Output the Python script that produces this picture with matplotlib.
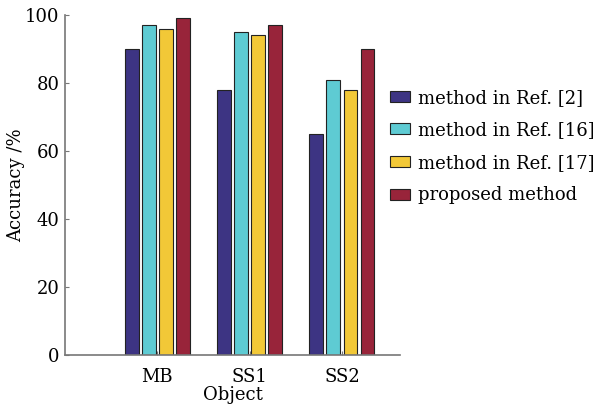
import numpy as np
import matplotlib.pyplot as plt

# Daten
objects = ['MB', 'SS1', 'SS2']
methods = ['method in Ref. [2]', 'method in Ref. [16]',
           'method in Ref. [17]', 'proposed method']
ref2 = [90, 78, 65]
ref16 = [97, 95, 81]
ref17 = [96, 94, 78]
proposed = [99, 97, 90]

colors = ['#3d3483', '#5ecbd3', '#f2c837', '#98243a']

plt.rcParams['font.family'] = 'DejaVu Serif'

fig = plt.figure(figsize=(5.93, 4.13), dpi=100)
ax = fig.add_axes([0.1096, 0.1404, 0.565, 0.8233])

x = np.arange(1, len(objects) + 1)
w = 0.15
step = 0.185
series = [ref2, ref16, ref17, proposed]
for i, (vals, c, lab) in enumerate(zip(series, colors, methods)):
    ax.bar(x + (i - 1.5) * step, vals, width=w, color=c, edgecolor='#222222',
           linewidth=0.8, label=lab, zorder=2)

ax.set_xlim(0, 3.63)
ax.set_ylim(0, 100)
ax.set_xticks(x)
ax.set_xticklabels(objects)
ax.set_yticks([0, 20, 40, 60, 80, 100])
ax.tick_params(direction='in', length=3, color='#777777', labelsize=13)
ax.tick_params(axis='x', pad=9)
ax.tick_params(axis='y', pad=4)
ax.set_xlabel('Object', fontsize=13, labelpad=0)
ax.set_ylabel('Accuracy /%', fontsize=13, labelpad=0)

for s in ['top', 'right']:
    ax.spines[s].set_visible(False)
for s in ['left', 'bottom']:
    ax.spines[s].set_color('#777777')
    ax.spines[s].set_linewidth(1.2)

leg = ax.legend(loc='upper left', bbox_to_anchor=(0.645, 0.803),
                bbox_transform=fig.transFigure, frameon=False,
                fontsize=13, handlelength=1.1, handleheight=0.55,
                handletextpad=0.45, labelspacing=0.81, borderaxespad=0)

plt.savefig('out.png', dpi=100)
